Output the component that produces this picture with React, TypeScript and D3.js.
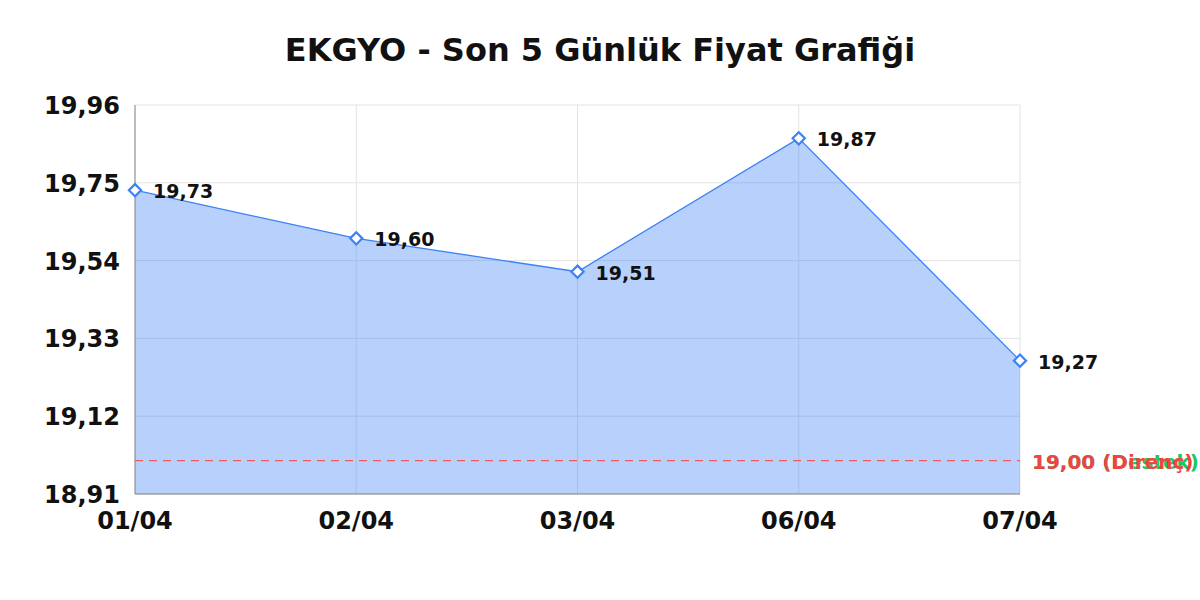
import React, { useEffect, useRef } from 'react';
import * as d3 from 'd3';

// Chart data
const dates = ['01/04', '02/04', '03/04', '06/04', '07/04'];
const prices = [19.73, 19.6, 19.51, 19.87, 19.27];
const yTicks = [18.91, 19.12, 19.33, 19.54, 19.75, 19.96];
const supportLevel = 19.0;
const resistanceLevel = 19.0;

const fmt = (v: number) => v.toFixed(2).replace('.', ',');

export default function App() {
  const svgRef = useRef<SVGSVGElement>(null);

  useEffect(() => {
    if (!svgRef.current) return;
    const width = 1200;
    const height = 600;
    const margin = { top: 105, right: 180, bottom: 106, left: 135 };
    const font = '"DejaVu Sans", sans-serif';

    d3.select(svgRef.current).selectAll('*').remove();
    const svg = d3.select(svgRef.current).attr('width', width).attr('height', height);

    svg.append('rect').attr('width', width).attr('height', height).attr('fill', '#ffffff');

    const x = d3.scalePoint<string>()
      .domain(dates)
      .range([margin.left, width - margin.right]);

    const y = d3.scaleLinear()
      .domain([yTicks[0], yTicks[yTicks.length - 1]])
      .range([height - margin.bottom, margin.top]);

    const x0 = margin.left;
    const x1 = width - margin.right;
    const y0 = height - margin.bottom;
    const y1 = margin.top;

    // Title
    svg.append('text')
      .attr('x', width / 2)
      .attr('y', 61)
      .attr('text-anchor', 'middle')
      .style('font-family', font)
      .style('font-weight', 'bold')
      .style('font-size', '32px')
      .style('fill', '#111')
      .text('EKGYO - Son 5 Günlük Fiyat Grafiği');

    // Grid
    const grid = svg.append('g');
    grid.selectAll('.hgrid')
      .data(yTicks)
      .enter()
      .append('line')
      .attr('x1', x0)
      .attr('x2', x1)
      .attr('y1', d => y(d))
      .attr('y2', d => y(d))
      .attr('stroke', '#e3e3e3')
      .attr('stroke-width', 1);
    grid.selectAll('.vgrid')
      .data(dates)
      .enter()
      .append('line')
      .attr('x1', d => x(d)!)
      .attr('x2', d => x(d)!)
      .attr('y1', y1)
      .attr('y2', y0)
      .attr('stroke', '#e3e3e3')
      .attr('stroke-width', 1);

    // Area + line
    const pts = dates.map((d, i) => ({ date: d, value: prices[i] }));
    const area = d3.area<{ date: string; value: number }>()
      .x(d => x(d.date)!)
      .y0(y0)
      .y1(d => y(d.value));
    svg.append('path')
      .datum(pts)
      .attr('d', area)
      .attr('fill', 'rgba(59,130,246,0.37)');

    const line = d3.line<{ date: string; value: number }>()
      .x(d => x(d.date)!)
      .y(d => y(d.value));
    svg.append('path')
      .datum(pts)
      .attr('d', line)
      .attr('fill', 'none')
      .attr('stroke', '#3b82f6')
      .attr('stroke-width', 1.3);

    // Axis lines
    svg.append('line')
      .attr('x1', x0).attr('x2', x0).attr('y1', y1).attr('y2', y0)
      .attr('stroke', '#888').attr('stroke-width', 1);
    svg.append('line')
      .attr('x1', x0).attr('x2', x1).attr('y1', y0).attr('y2', y0)
      .attr('stroke', '#888').attr('stroke-width', 1);

    // Support / resistance line
    svg.append('line')
      .attr('x1', x0)
      .attr('x2', x1)
      .attr('y1', y(resistanceLevel))
      .attr('y2', y(resistanceLevel))
      .attr('stroke', '#ef5b5b')
      .attr('stroke-width', 1.4)
      .attr('stroke-dasharray', '8,6');

    svg.append('text')
      .attr('x', x1 + 12)
      .attr('y', y(supportLevel) + 8)
      .style('font-family', font)
      .style('font-weight', 'bold')
      .style('font-size', '20px')
      .style('fill', '#22c55e')
      .text(`${fmt(supportLevel)} (Destek)`);
    svg.append('text')
      .attr('x', x1 + 12)
      .attr('y', y(resistanceLevel) + 8)
      .style('font-family', font)
      .style('font-weight', 'bold')
      .style('font-size', '20px')
      .style('fill', '#ef4444')
      .text(`${fmt(resistanceLevel)} (Direnç)`);

    // Markers
    const diamond = d3.symbol().type(d3.symbolDiamond2).size(95);
    svg.selectAll('.marker')
      .data(pts)
      .enter()
      .append('path')
      .attr('d', diamond)
      .attr('transform', d => `translate(${x(d.date)},${y(d.value)})`)
      .attr('fill', '#ffffff')
      .attr('stroke', '#3b82f6')
      .attr('stroke-width', 2.2);

    // Value labels
    svg.selectAll('.vlabel')
      .data(pts)
      .enter()
      .append('text')
      .attr('x', d => x(d.date)! + 18)
      .attr('y', d => y(d.value) + 8)
      .style('font-family', font)
      .style('font-weight', 'bold')
      .style('font-size', '19px')
      .style('fill', '#111')
      .text(d => fmt(d.value));

    // Y tick labels
    svg.selectAll('.ytick')
      .data(yTicks)
      .enter()
      .append('text')
      .attr('x', 120)
      .attr('y', d => y(d) + 9)
      .attr('text-anchor', 'end')
      .style('font-family', font)
      .style('font-weight', 'bold')
      .style('font-size', '24px')
      .style('fill', '#111')
      .text(d => fmt(d));

    // X tick labels
    svg.selectAll('.xtick')
      .data(dates)
      .enter()
      .append('text')
      .attr('x', d => x(d)!)
      .attr('y', 529)
      .attr('text-anchor', 'middle')
      .style('font-family', font)
      .style('font-weight', 'bold')
      .style('font-size', '24px')
      .style('fill', '#111')
      .text(d => d);
  }, []);

  return (
    <div style={{ position: 'absolute', left: 0, top: 0 }}>
      <svg ref={svgRef} style={{ display: 'block' }} />
    </div>
  );
}
